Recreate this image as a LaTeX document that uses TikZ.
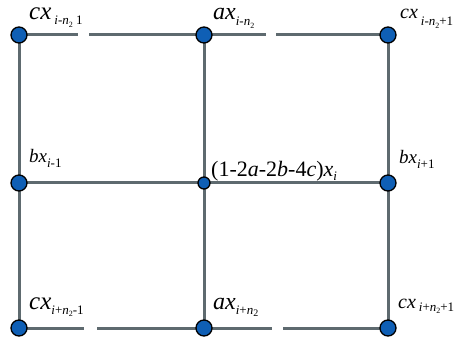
\documentclass[tikz,border=0pt]{standalone}
\usepackage{fontspec}
\setmainfont{Liberation Serif}
\usetikzlibrary{backgrounds}
\begin{document}
\begin{tikzpicture}[x=1pt,y=-1pt,
  grid/.style={draw=gridcol,line width=3pt},
  big/.style={circle,draw=black,line width=1.3pt,fill=nodeblue,minimum size=16pt,inner sep=0pt},
  small/.style={circle,draw=black,line width=1.3pt,fill=nodeblue,minimum size=12pt,inner sep=0pt},
  lbl/.style={anchor=base west,inner sep=0pt}]
\definecolor{gridcol}{HTML}{5E6A6F}
\definecolor{nodeblue}{HTML}{0F5FB5}
\useasboundingbox (0,0) rectangle (466,339);
\newcommand{\bigx}[2]{{\fontsize{#1}{#1}\selectfont\itshape #2}}
\newcommand{\subx}[2][5]{\raisebox{-#1pt}{\fontsize{13}{13}\selectfont #2}}
\newcommand{\ntwo}{\textit{n}\raisebox{-2.5pt}{\fontsize{8}{8}\selectfont 2}}
% gap coordinates
\coordinate (g1a) at (78,35); \coordinate (g1b) at (89,35);
\coordinate (g2a) at (266,35); \coordinate (g2b) at (276,35);
\coordinate (g3a) at (84,328); \coordinate (g3b) at (97,328);
\coordinate (g4a) at (272,328); \coordinate (g4b) at (283,328);
% nodes
\node[big] (tl) at (19,35) {};
\node[big] (tm) at (204,35) {};
\node[big] (tr) at (388,35) {};
\node[big] (ml) at (19,183) {};
\node[small] (mm) at (204,183) {};
\node[big] (mr) at (388,183) {};
\node[big] (bl) at (19,328) {};
\node[big] (bm) at (204,328) {};
\node[big] (br) at (388,328) {};
% grid lines
\begin{scope}[on background layer]
\draw[grid] (tl.center) -- (g1a);
\draw[grid] (g1b) -- (tm.center);
\draw[grid] (tm.center) -- (g2a);
\draw[grid] (g2b) -- (tr.center);
\draw[grid] (ml.center) -- (mm.center) -- (mr.center);
\draw[grid] (bl.center) -- (g3a);
\draw[grid] (g3b) -- (bm.center);
\draw[grid] (bm.center) -- (g4a);
\draw[grid] (g4b) -- (br.center);
\draw[grid] (tl.center) -- (ml.center) -- (bl.center);
\draw[grid] (tm.center) -- (mm.center) -- (bm.center);
\draw[grid] (tr.center) -- (mr.center) -- (br.center);
\end{scope}
% labels
\node[lbl] (ltl) at (29,20) {\bigx{25}{cx}\hspace{3pt}\subx{\textit{i}-\ntwo\ 1}};
\node[lbl] (ltm) at (213,20) {\bigx{24}{ax}\subx[6]{\textit{i}-\ntwo}};
\node[lbl] (ltr) at (400,19) {\bigx{20}{cx}\hspace{3pt}\subx[7]{\textit{i}-\ntwo+1}};
\node[lbl] (lml) at (29,163) {\bigx{19}{bx}\subx{\textit{i}-1}};
\node[lbl] (lmm) at (211,177) {{\fontsize{22}{22}\selectfont (1-2\textit{a}-2\textit{b}-4\textit{c})\textit{x}}\subx[4]{\textit{i}}};
\node[lbl] (lmr) at (399,164) {\bigx{19}{bx}\subx{\textit{i}+1}};
\node[lbl] (lbl) at (29,309) {\bigx{25}{cx}\subx{\textit{i}+\ntwo-1}};
\node[lbl] (lbm) at (213,309) {\bigx{24}{ax}\subx{\textit{i}+\textit{n}\raisebox{-2pt}{\fontsize{10}{10}\selectfont 2}}};
\node[lbl] (lbr) at (398,308) {\bigx{20}{cx}\hspace{3pt}\subx[3]{\textit{i}+\ntwo+1}};
\end{tikzpicture}
\end{document}
